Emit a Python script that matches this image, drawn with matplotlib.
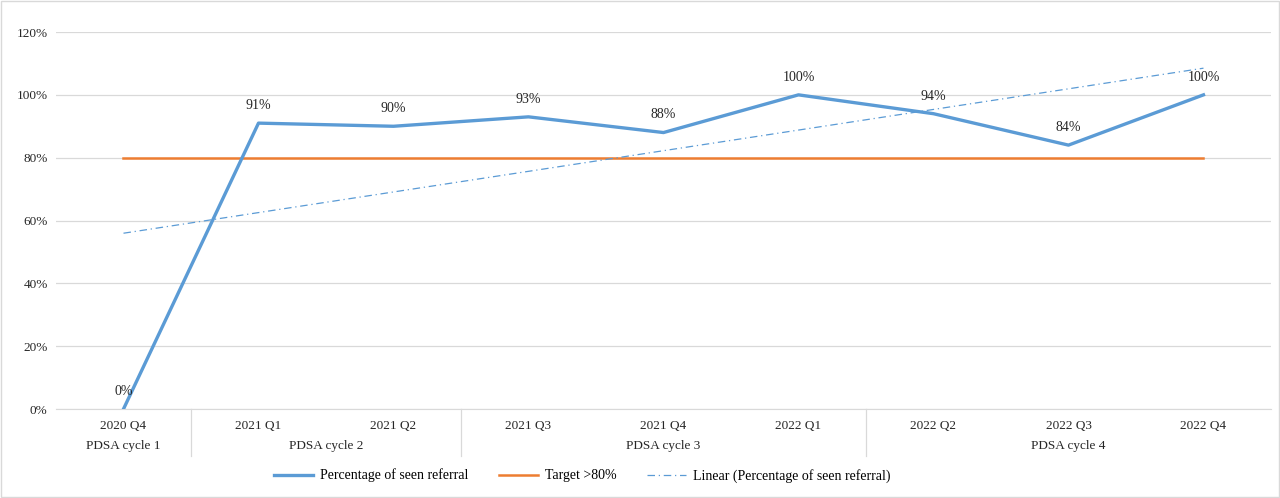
import numpy as np
import matplotlib.pyplot as plt
from matplotlib.ticker import FuncFormatter

quarters = ["2020 Q4", "2021 Q1", "2021 Q2", "2021 Q3", "2021 Q4",
            "2022 Q1", "2022 Q2", "2022 Q3", "2022 Q4"]
seen_pct = [0, 91, 90, 93, 88, 100, 94, 84, 100]
target = [80] * len(quarters)
cycles = ["PDSA cycle 1", "PDSA cycle 2", "PDSA cycle 3", "PDSA cycle 4"]
cycle_sizes = [1, 2, 3, 3]

plt.rcParams['font.family'] = ['Liberation Serif', 'DejaVu Serif']
plt.rcParams['font.size'] = 9.5

blue = "#5B9BD5"
orange = "#ED7D31"
grid = "#D9D9D9"

fig = plt.figure(figsize=(12.8, 4.98), dpi=100)
ax = fig.add_axes([0.04375, 0.1787, 0.9492, 0.757])

x = np.arange(len(quarters))
ax.plot(x, seen_pct, color=blue, lw=2.4, label="Percentage of seen referral", zorder=3)
ax.plot(x, target, color=orange, lw=1.8, label="Target >80%", zorder=2)
k, b = np.polyfit(x, seen_pct, 1)
ax.plot(x, k * x + b, color=blue, lw=0.9, ls=(0, (6, 3, 1, 3)),
        label="Linear (Percentage of seen referral)", zorder=2)

for xi, v in zip(x, seen_pct):
    ax.annotate(f"{v}%", (xi, v), xytext=(0, 8), textcoords="offset points",
                ha="center", va="bottom", color="#262626", fontsize=10)

ax.set_xlim(-0.5, len(quarters) - 0.5)
ax.set_ylim(0, 120)
ax.set_yticks(np.arange(0, 121, 20))
ax.yaxis.set_major_formatter(FuncFormatter(lambda v, p: f"{v:.0f}%"))
ax.grid(axis="y", color=grid, lw=0.9)
ax.set_axisbelow(True)
for s in ["top", "right", "left"]:
    ax.spines[s].set_visible(False)
ax.spines["bottom"].set_color(grid)
ax.tick_params(axis="y", length=0, pad=6, colors="#262626")
ax.set_xticks(x)
ax.set_xticklabels(quarters)
ax.tick_params(axis="x", length=0, pad=8, colors="#262626")

# second level of category labels
start = 0
for name, n in zip(cycles, cycle_sizes):
    mid = start + (n - 1) / 2
    ax.text(mid, -0.098, name, transform=ax.get_xaxis_transform(),
            ha="center", va="center", color="#262626")
    if start > 0:
        ax.plot([start - 0.5, start - 0.5], [0, -0.125], transform=ax.get_xaxis_transform(),
                color=grid, lw=0.9, clip_on=False)
    start += n

fig.legend(loc="center", bbox_to_anchor=(0.455, 0.045), ncol=3, frameon=False,
           handlelength=2.8, columnspacing=2.2, handletextpad=0.5, fontsize=10)

border = plt.Rectangle((0.001, 0.002), 0.998, 0.996, transform=fig.transFigure,
                       fill=False, edgecolor="#D9D9D9", lw=1)
fig.patches.append(border)

fig.savefig("out.png", dpi=100)
